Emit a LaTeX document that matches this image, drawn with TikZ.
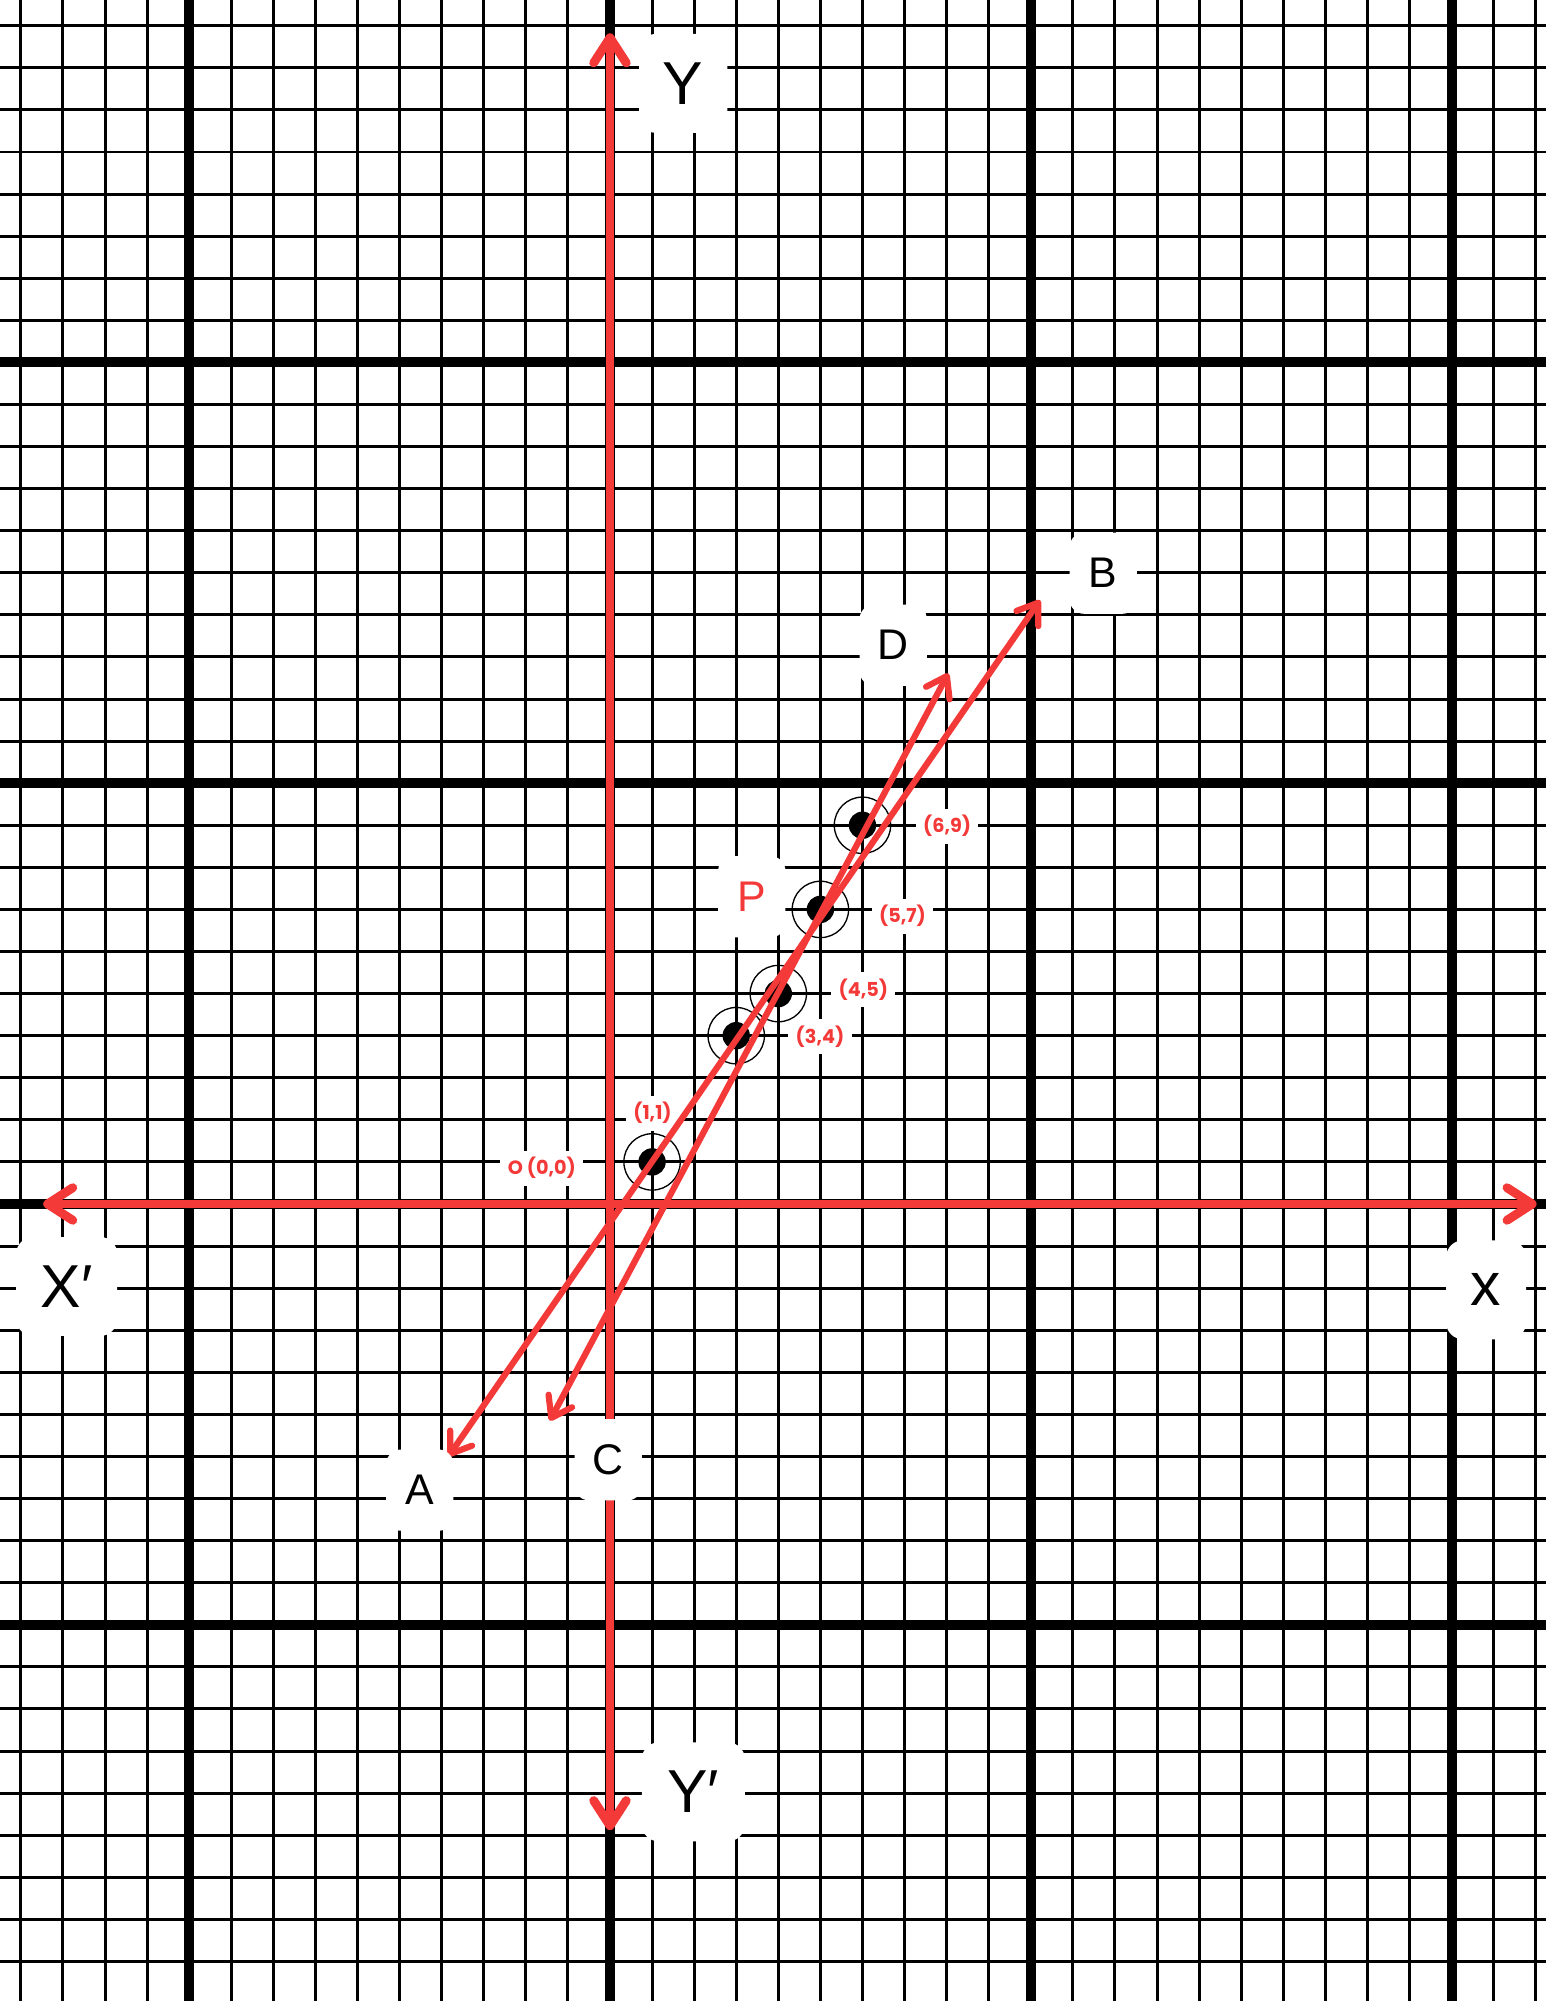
\documentclass[tikz,border=0pt]{standalone}
\usepackage{fontspec}
\setmainfont{Liberation Sans}
\newfontfamily\coordfont{Poppins}
\usetikzlibrary{arrows.meta}
\definecolor{redline}{RGB}{244,57,57}
\tikzset{
  gridthin/.style={line width=2pt,black},
  gridthick/.style={line width=6.8pt,black},
  axisline/.style={line width=6pt,redline,line cap=round,
    {Straight Barb[length=17pt,width=22pt,round]}-{Straight Barb[length=17pt,width=22pt,round]}},
  diagline/.style={line width=4.2pt,redline,line cap=round,
    {Straight Barb[length=13pt,width=18pt,round]}-{Straight Barb[length=13pt,width=18pt,round]}},
  ptdot/.style={circle,fill=black,inner sep=0pt,minimum size=0.65cm},
  ptring/.style={circle,draw=black,line width=0.9pt,inner sep=0pt,minimum size=1.34cm},
  bigbox/.style={fill=white,rounded corners=0.4cm,inner sep=0pt,minimum height=2.35cm,
    font=\fontsize{41}{41}\selectfont},
  smallbox/.style={fill=white,rounded corners=0.35cm,inner sep=0pt,minimum width=1.6cm,
    minimum height=1.93cm,font=\fontsize{29}{29}\selectfont},
  coordbox/.style={fill=white,inner xsep=5pt,inner ysep=4.5pt,text=redline,
    font=\coordfont\bfseries\fontsize{13}{13}\selectfont}
}
\begin{document}
\begin{tikzpicture}[x=1cm,y=1cm]
\useasboundingbox (-14.496,-18.940) rectangle (22.243,28.612);
\fill[white] (-14.496,-18.940) rectangle (22.243,28.612);
\clip (-14.496,-18.940) rectangle (22.243,28.612);
% graph paper
\foreach \i in {-14,...,22} {\draw[gridthin] (\i,-19.5) -- (\i,29);}
\foreach \j in {-18,...,28} {\draw[gridthin] (-15,\j) -- (23,\j);}
\foreach \i in {-10,0,10,20} {\draw[gridthick] (\i,-19.5) -- (\i,29);}
\foreach \j in {-10,0,10,20} {\draw[gridthick] (-15,\j) -- (23,\j);}
% coordinate labels (under the red lines)
\node[coordbox] (Olab) at (-1.62,0.85) {O (0,0)};
\node[coordbox] (l11) at (1.01,2.16) {(1,1)};
\node[coordbox] (l34) at (4.99,3.98) {(3,4)};
\node[coordbox] (l45) at (6.02,5.09) {(4,5)};
\node[coordbox] (l57) at (6.95,6.84) {(5,7)};
\node[coordbox] (l69) at (8.01,8.98) {(6,9)};
% points
\foreach \px/\py/\nm in {1/1/a,3/4/b,4/5/c,5/7/d,6/9/e} {
  \node[ptring] (r\nm) at (\px,\py) {};
  \node[ptdot] (p\nm) at (\px,\py) {};
}
% axes
\coordinate (xl) at (-13.47,0);
\coordinate (xr) at (22.02,0);
\coordinate (yb) at (0,-14.88);
\coordinate (yt) at (0,27.82);
\draw[axisline] (xl) -- (xr);
\draw[axisline] (yb) -- (yt);
% lines
\coordinate (Atip) at (-3.84,-6.00);
\coordinate (Btip) at (10.22,14.35);
\coordinate (Ctip) at (-1.43,-5.15);
\coordinate (Dtip) at (8.04,12.61);
\draw[diagline] (Atip) -- (Btip);
\draw[diagline] (Ctip) -- (Dtip);
% letter labels
\node[bigbox,minimum width=2.1cm] (Ylab) at (1.74,26.63) {Y};
\node[bigbox,minimum width=2.45cm] (Yplab) at (1.98,-13.97) {Y′};
\node[bigbox,minimum width=2.4cm] (Xplab) at (-12.91,-1.96) {X′};
\node[bigbox,minimum width=1.9cm] (xlab) at (20.82,-2.04) {x};
\node[smallbox] (Alab) at (-4.52,-6.80) {A};
\node[smallbox] (Blab) at (11.72,14.99) {B};
\node[smallbox] (Clab) at (-0.04,-6.08) {C};
\node[smallbox] (Dlab) at (6.73,13.28) {D};
\node[smallbox,text=redline] (Plab) at (3.37,7.30) {P};
\end{tikzpicture}
\end{document}
